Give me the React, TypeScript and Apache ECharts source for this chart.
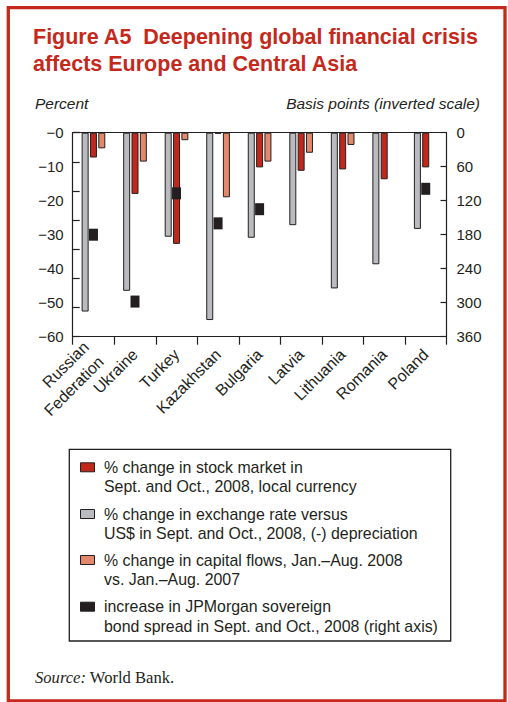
import React, { useEffect, useRef } from "react";
import * as echarts from "echarts";

const categories = ["Russian\nFederation", "Ukraine", "Turkey", "Kazakhstan", "Bulgaria", "Latvia", "Lithuania", "Romania", "Poland"];
const stockMarket = [-7.3, -18, -32.7, -0.3, -10.2, -11.2, -10.8, -13.7, -10.2];
const exchangeRate = [-52.6, -46.5, -30.6, -55.1, -30.9, -27.2, -45.8, -38.7, -28.3];
const capitalFlows: (number | null)[] = [-4.6, -8.5, -2.2, -19, -8.5, -5.9, -3.6, null, null];
const bondSpread: (number | null)[] = [180, 298, 107, 160, 135, null, null, null, 99];

const leftTicks = [0, -10, -20, -30, -40, -50, -60];
const rightTicks = [0, 60, 120, 180, 240, 300, 360];

const seriesNames = [
  "% change in stock market in\nSept. and Oct., 2008, local currency",
  "% change in exchange rate versus\nUS$ in Sept. and Oct., 2008, (-) depreciation",
  "% change in capital flows, Jan.\u2013Aug. 2008\nvs. Jan.\u2013Aug. 2007",
  "increase in JPMorgan sovereign\nbond spread in Sept. and Oct., 2008 (right axis)",
];

const RED = "#c1281c";
const GRAY = "#b9bbbe";
const SALMON = "#e3896b";
const BLACK = "#231f20";
const TITLE_RED = "#c4291c";
const SANS = "Liberation Sans, Arial, Helvetica, sans-serif";
const SERIF = "Liberation Serif, 'Times New Roman', serif";

export default function App() {
  const ref = useRef<HTMLDivElement>(null);
  useEffect(() => {
    if (!ref.current) return;
    const chart = echarts.init(ref.current, null, { renderer: "svg" });
    const legendColors = [RED, GRAY, SALMON, BLACK];
    const legendTop = [467.3, 514, 560, 606.7];
    const legendGraphics: any[] = [];
    seriesNames.forEach((name, i) => {
      legendGraphics.push({
        type: "rect",
        shape: { x: 80.5, y: legendTop[i] - 4.5, width: 14, height: 9 },
        style: { fill: legendColors[i], stroke: BLACK, lineWidth: 1 },
      });
      const lines = name.split("\n");
      lines.forEach((ln, j) => {
        legendGraphics.push({
          type: "text",
          x: 104,
          y: legendTop[i] + j * 19.5,
          style: { text: ln, font: `15.9px ${SANS}`, fill: BLACK, verticalAlign: "middle" },
        });
      });
    });

    const barBorder = { borderColor: BLACK, borderWidth: 1 };
    chart.setOption({
      animation: false,
      grid: { left: 72.7, right: 61.5, top: 132.7, bottom: 365.3, containLabel: false },
      xAxis: [
        {
          type: "category",
          data: categories,
          position: "bottom",
          axisLine: { show: true, onZero: false, lineStyle: { color: BLACK, width: 1.2 } },
          axisTick: { show: true, inside: false, length: 8, lineStyle: { color: BLACK, width: 1.2 } },
          axisLabel: {
            rotate: 45,
            interval: 0,
            margin: 15,
            fontSize: 16,
            lineHeight: 21,
            color: BLACK,
            fontFamily: SANS,
          },
        },
        {
          type: "category",
          data: categories,
          position: "top",
          axisLine: { show: true, onZero: false, lineStyle: { color: BLACK, width: 1.2 } },
          axisTick: { show: false },
          axisLabel: { show: false },
        },
      ],
      yAxis: [
        {
          type: "value",
          position: "left",
          min: leftTicks[leftTicks.length - 1],
          max: leftTicks[0],
          interval: 10,
          axisLine: { show: true, lineStyle: { color: BLACK, width: 1.2 } },
          axisTick: { show: false },
          splitLine: { show: false },
          axisLabel: {
            margin: 9,
            fontSize: 15,
            color: BLACK,
            fontFamily: SANS,
            formatter: (v: number) => "\u2212" + Math.abs(v),
          },
        },
        {
          type: "value",
          position: "right",
          inverse: true,
          min: rightTicks[0],
          max: rightTicks[rightTicks.length - 1],
          interval: 60,
          axisLine: { show: true, lineStyle: { color: BLACK, width: 1.2 } },
          axisTick: { show: true, inside: true, length: 6, lineStyle: { color: BLACK, width: 1.2 } },
          splitLine: { show: false },
          axisLabel: { margin: 10, fontSize: 15, color: BLACK, fontFamily: SANS },
        },
        {
          type: "value",
          position: "left",
          min: -60,
          max: 0,
          interval: 60 / 7,
          axisLine: { show: false },
          axisTick: { show: true, inside: true, length: 7, lineStyle: { color: BLACK, width: 1.2 } },
          axisLabel: { show: false },
          splitLine: { show: false },
        },
      ],
      series: [
        {
          name: seriesNames[1],
          type: "bar",
          data: exchangeRate,
          barWidth: 7,
          barGap: "19%",
          itemStyle: { color: GRAY, ...barBorder },
        },
        {
          name: seriesNames[0],
          type: "bar",
          data: stockMarket,
          barWidth: 7,
          barGap: "19%",
          itemStyle: { color: RED, ...barBorder },
        },
        {
          name: seriesNames[2],
          type: "bar",
          data: capitalFlows,
          barWidth: 7,
          barGap: "19%",
          itemStyle: { color: SALMON, ...barBorder },
        },
        {
          name: seriesNames[3],
          type: "scatter",
          yAxisIndex: 1,
          data: bondSpread,
          symbol: "rect",
          symbolSize: [9, 12],
          itemStyle: { color: BLACK, opacity: 1 },
          z: 5,
        },
      ],
      graphic: [
        {
          type: "rect",
          shape: { x: 8.3, y: 7.7, width: 496.7, height: 693.3 },
          style: { fill: "none", stroke: TITLE_RED, lineWidth: 3.3 },
          silent: true,
        },
        {
          type: "text",
          x: 33,
          y: 37,
          style: { text: "Figure A5  Deepening global financial crisis", font: `bold 21.5px ${SANS}`, fill: TITLE_RED, verticalAlign: "middle" },
        },
        {
          type: "text",
          x: 33,
          y: 63.5,
          style: { text: "affects Europe and Central Asia", font: `bold 21.5px ${SANS}`, fill: TITLE_RED, verticalAlign: "middle" },
        },
        {
          type: "text",
          x: 35,
          y: 103,
          style: { text: "Percent", font: `italic 15.5px ${SANS}`, fill: BLACK, verticalAlign: "middle" },
        },
        {
          type: "text",
          x: 480,
          y: 103,
          style: { text: "Basis points (inverted scale)", font: `italic 15.5px ${SANS}`, fill: BLACK, verticalAlign: "middle", align: "right" },
        },
        {
          type: "rect",
          shape: { x: 69.3, y: 449.3, width: 381.4, height: 191.7 },
          style: { fill: "#fff", stroke: BLACK, lineWidth: 1.3 },
        },
        ...legendGraphics,
        {
          type: "text",
          x: 35,
          y: 677,
          style: {
            text: "{i|Source:} World Bank.",
            font: `16.6px ${SERIF}`,
            fill: BLACK,
            verticalAlign: "middle",
            rich: { i: { fontStyle: "italic", fontSize: 16.6, fontFamily: SERIF, fill: BLACK } },
          },
        },
      ],
    });
    return () => chart.dispose();
  }, []);
  return <div ref={ref} style={{ position: "absolute", left: 0, top: 0, width: 508, height: 702 }} />;
}
